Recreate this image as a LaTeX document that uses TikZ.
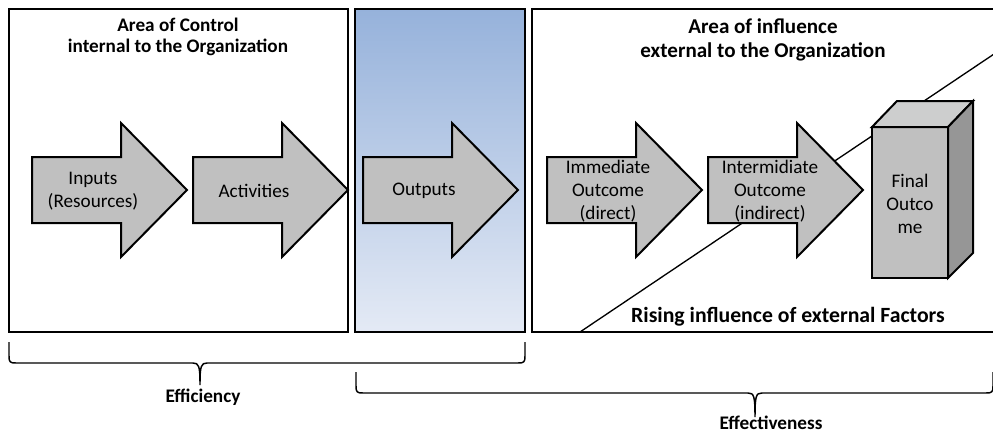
\documentclass[tikz,border=0pt]{standalone}
\usepackage{fontspec}
\setmainfont{Carlito}
\definecolor{arrowgray}{RGB}{192,192,192}
\definecolor{boxtop}{RGB}{205,206,206}
\definecolor{boxside}{RGB}{150,150,150}
\definecolor{outtop}{RGB}{150,178,219}
\definecolor{outbottom}{RGB}{228,234,245}
\tikzset{
  panel/.style={draw=black, line width=1.5pt},
  flow/.style={draw=black, line width=1.5pt, fill=arrowgray, line join=miter},
  flowtext/.style={align=center, inner sep=0pt, font=\fontsize{14.4}{17}\selectfont},
  areatitle/.style={align=center, inner sep=0pt, font=\fontsize{14.4}{16.3}\selectfont\bfseries},
  brace/.style={draw=black, line width=1.1pt},
  pics/flowarrow/.style={code={
    \draw[flow] (0,-33) -- (89,-33) -- (89,-67) -- (155,0) -- (89,67) -- (89,33) -- (0,33) -- cycle;
  }}
}
\begin{document}
\begin{tikzpicture}[x=0.75pt,y=0.75pt,yscale=-1]
\useasboundingbox (0,0) rectangle (993,433);
\clip (0,0) rectangle (993,433);

% Areas
\draw[panel] (9,9) rectangle (348,332);
\shade[top color=outtop, bottom color=outbottom] (355,9) rectangle (525,332);
\draw[panel] (355,9) rectangle (525,332);
\draw[panel] (532,9) rectangle (1005,332);

% Rising line
\draw[line width=1pt] (580,332) -- (1000,50);

% Flow arrows
\pic at (32,190) {flowarrow};
\pic at (193,190) {flowarrow};
\pic at (363,190) {flowarrow};
\pic at (547,190) {flowarrow};
\pic at (708,190) {flowarrow};

% Final outcome block
\draw[flow] (872,127) rectangle (948,278);
\draw[flow, fill=boxtop] (872,127) -- (897,101) -- (973,101) -- (948,127) -- cycle;
\draw[flow, fill=boxside] (948,127) -- (973,101) -- (973,253) -- (948,278) -- cycle;

% Titles
\node[areatitle] (ctrl) at (178,37) {Area of Control\\internal to the Organization};
\node[areatitle, font=\fontsize{15.8}{18}\selectfont\bfseries] (infl) at (763,40) {Area of influence\\external to the Organization};
\node[areatitle, font=\fontsize{16.3}{18}\selectfont\bfseries] (rising) at (788,317) {Rising influence of external Factors};

% Labels
\node[flowtext] (inputs) at (93,191) {Inputs\\(Resources)};
\node[flowtext] (activ) at (254,191) {Activities};
\node[flowtext] (outputs) at (424,191) {Outputs};
\node[flowtext] (immed) at (608,191) {Immediate\\Outcome\\(direct)};
\node[flowtext] (interm) at (770,191) {Intermidiate\\Outcome\\(indirect)};
\node[flowtext] (final) at (910,204) {Final\\Outco\\me};

% Braces
\draw[brace] (9,342) -- (9,356) .. controls (9,362) and (10,363) .. (16,363) -- (193,363)
  .. controls (199,363) and (200,366) .. (200,385) .. controls (200,366) and (201,363) .. (207,363)
  -- (518,363) .. controls (524,363) and (525,362) .. (525,356) -- (525,342);
\draw[brace] (356,372) -- (356,386) .. controls (356,392) and (357,393) .. (363,393) -- (748,393)
  .. controls (754,393) and (755,396) .. (755,417) .. controls (755,396) and (756,393) .. (762,393)
  -- (986,393) .. controls (992,393) and (993,392) .. (993,386) -- (993,372);

\node[areatitle] (effic) at (203,397) {Efficiency};
\node[areatitle] (effect) at (771,423) {Effectiveness};

\end{tikzpicture}
\end{document}
